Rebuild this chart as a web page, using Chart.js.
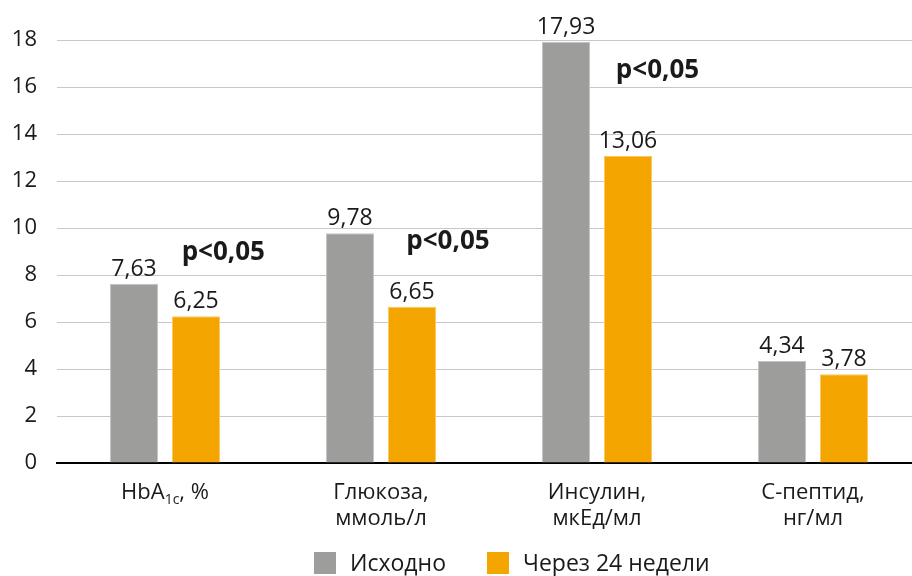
<!DOCTYPE html>
<html>
<head>
<meta charset="utf-8">
<script src="https://cdn.jsdelivr.net/npm/chart.js@4/dist/chart.umd.min.js"></script>
<style>
  html, body { margin: 0; padding: 0; background: #ffffff; overflow: hidden; }
  #wrap { width: 921px; height: 576px; position: relative; }
</style>
</head>
<body>
<div id="wrap"><canvas id="c"></canvas></div>
<script>
// ---- data ----
const categories = [
  ["HbA1c, %"],
  ["Глюкоза,", "ммоль/л"],
  ["Инсулин,", "мкЕд/мл"],
  ["С-пептид,", "нг/мл"]
];
const seriesNames = ["Исходно", "Через 24 недели"];
const baseline = [7.63, 9.78, 17.93, 4.34];
const week24 = [6.25, 6.65, 13.06, 3.78];
const yTicks = [0, 2, 4, 6, 8, 10, 12, 14, 16, 18];
const pLabels = ["p<0,05", "p<0,05", "p<0,05"];
const pCategory = [0, 1, 2];
const pValueLevel = [8.64, 9.1, 16.4];

// ---- styles ----
const FONT = "'Open Sans', 'DejaVu Sans', sans-serif";
const TEXT = "#1a1a1a";
const GRAY = "#9d9d9c";
const ORANGE = "#f5a500";
const pOffset = [0.27, 0.31, 0.28];

const labelPlugin = {
  id: 'customText',
  afterDatasetsDraw(chart) {
    const ctx = chart.ctx;
    const xs = chart.scales.x, ys = chart.scales.y;
    ctx.save();
    // value labels
    ctx.fillStyle = TEXT;
    ctx.font = "23px " + FONT;
    ctx.textAlign = 'center';
    ctx.textBaseline = 'alphabetic';
    chart.data.datasets.forEach((ds, di) => {
      const meta = chart.getDatasetMeta(di);
      meta.data.forEach((bar, i) => {
        const txt = ds.data[i].toFixed(2).replace('.', ',');
        ctx.fillText(txt, bar.x, bar.y - 8);
      });
    });
    // p labels
    ctx.font = "bold 26px " + FONT;
    pLabels.forEach((t, i) => {
      const x = xs.getPixelForValue(pCategory[i] + pOffset[i]);
      const y = ys.getPixelForValue(pValueLevel[i]);
      ctx.fillText(t, x, y);
    });
    // category labels
    const top = ys.getPixelForValue(0);
    categories.forEach((lines, i) => {
      const cx = xs.getPixelForValue(i);
      if (i === 0) {
        const big = "22px " + FONT, small = "14px " + FONT;
        ctx.font = big;
        const w1 = ctx.measureText("HbA").width;
        const w3 = ctx.measureText(", %").width;
        ctx.font = small;
        const w2 = ctx.measureText("1c").width;
        let x = cx - (w1 + w2 + w3) / 2;
        const by = top + 36;
        ctx.textAlign = 'left';
        ctx.font = big;
        ctx.fillText("HbA", x, by);
        x += w1;
        ctx.font = small;
        ctx.fillText("1c", x, by + 5);
        x += w2;
        ctx.font = big;
        ctx.fillText(", %", x, by);
        ctx.textAlign = 'center';
      } else {
        ctx.font = "22px " + FONT;
        lines.forEach((ln, k) => {
          ctx.fillText(ln, cx, top + 36 + k * 26);
        });
      }
    });
    // legend
    ctx.font = "23px " + FONT;
    ctx.textAlign = 'left';
    ctx.textBaseline = 'middle';
    const box = 22, gapText = 14, gapItem = 41;
    const items = chart.data.datasets.map(d => ({ label: d.label, color: d.backgroundColor }));
    let lx = 314;
    const ly = 563;
    items.forEach(it => {
      ctx.fillStyle = it.color;
      ctx.fillRect(lx, ly - box / 2, box, box);
      ctx.fillStyle = TEXT;
      ctx.fillText(it.label, lx + box + gapText, ly + 1);
      lx += box + gapText + ctx.measureText(it.label).width + gapItem;
    });
    ctx.restore();
  }
};

new Chart(document.getElementById('c'), {
  type: 'bar',
  data: {
    labels: categories.map(c => c.join(' ')),
    datasets: [
      { label: seriesNames[0], data: baseline, backgroundColor: GRAY, borderColor: '#c4c4c3', borderWidth: 1 },
      { label: seriesNames[1], data: week24, backgroundColor: ORANGE, borderColor: '#f8c766', borderWidth: 1 }
    ]
  },
  options: {
    responsive: true,
    maintainAspectRatio: false,
    devicePixelRatio: 1,
    animation: false,
    layout: { padding: { top: 40, right: 0, bottom: 0, left: 0 } },
    datasets: { bar: { categoryPercentage: 0.574, barPercentage: 0.774 } },
    plugins: { legend: { display: false }, tooltip: { enabled: false } },
    scales: {
      x: {
        grid: { display: true, color: 'transparent', drawTicks: false },
        border: { display: true, color: '#000000', width: 2 },
        ticks: { display: false },
        afterFit(s) { s.height = 113; }
      },
      y: {
        min: 0, max: 18,
        afterBuildTicks(s) { s.ticks = yTicks.map(v => ({ value: v })); },
        grid: { color: '#c8c8c8', lineWidth: 1, drawTicks: false },
        border: { display: false },
        ticks: { color: TEXT, font: { family: FONT, size: 22 }, padding: 20 },
        afterFit(s) { s.width = 57; }
      }
    }
  },
  plugins: [labelPlugin]
});
</script>
</body>
</html>
